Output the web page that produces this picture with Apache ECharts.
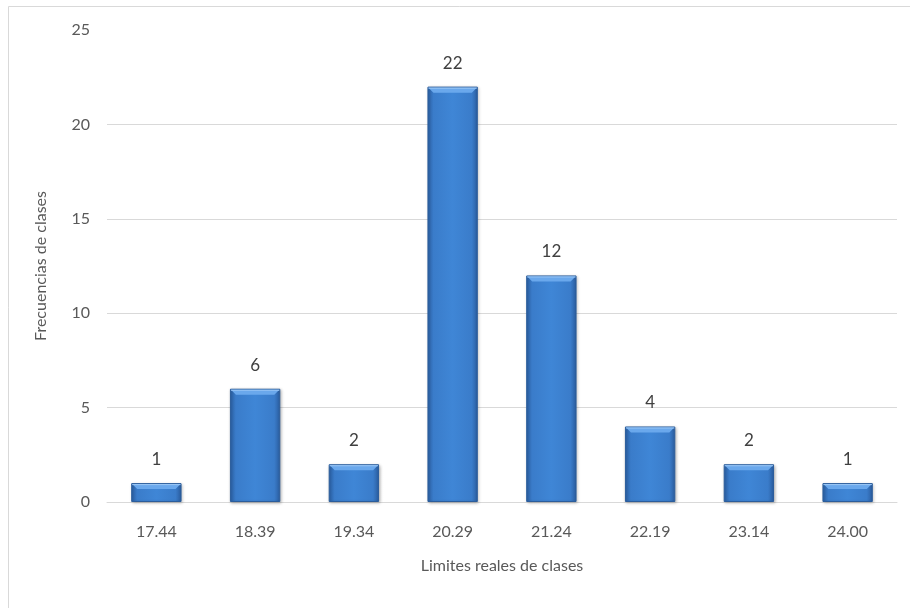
<!DOCTYPE html>
<html>
<head>
<meta charset="utf-8">
<style>
  html, body { margin: 0; padding: 0; background: #ffffff; }
  #chart { width: 910px; height: 608px; }
</style>
<script src="https://cdn.jsdelivr.net/npm/echarts@6/dist/echarts.min.js"></script>
</head>
<body>
<div id="chart"></div>
<script>
// Class boundaries and their frequencies
const categories = ['17.44', '18.39', '19.34', '20.29', '21.24', '22.19', '23.14', '24.00'];
const frequencies = [1, 6, 2, 22, 12, 4, 2, 1];
const yTicks = { min: 0, max: 25, interval: 5 };

const FONT = 'Lato, "Liberation Sans", sans-serif';

const chart = echarts.init(document.getElementById('chart'), null, { renderer: 'canvas' });

const barFill = new echarts.graphic.LinearGradient(0, 0, 1, 0, [
  { offset: 0, color: '#2c62a8' },
  { offset: 0.12, color: '#3a7cca' },
  { offset: 0.5, color: '#3f86d6' },
  { offset: 0.88, color: '#3a7cca' },
  { offset: 1, color: '#2a5c9e' }
]);

chart.setOption({
  animation: false,
  backgroundColor: '#ffffff',
  textStyle: { fontFamily: FONT },
  graphic: [{
    type: 'rect',
    shape: { x: 8.5, y: 6.5, width: 1200, height: 1200 },
    style: { fill: 'none', stroke: '#d9d9d9', lineWidth: 1 },
    silent: true
  }],
  grid: { left: 107, right: 13, top: 30, bottom: 106 },
  xAxis: {
    type: 'category',
    data: categories,
    name: 'Limites reales de clases',
    nameLocation: 'middle',
    nameGap: 56,
    nameTextStyle: { color: '#595959', fontSize: 16, fontFamily: FONT },
    axisLine: { lineStyle: { color: '#d9d9d9', width: 1 } },
    axisTick: { show: false },
    axisLabel: { color: '#595959', fontSize: 16, margin: 22, fontFamily: FONT }
  },
  yAxis: {
    type: 'value',
    min: yTicks.min,
    max: yTicks.max,
    interval: yTicks.interval,
    name: 'Frecuencias de clases',
    nameLocation: 'middle',
    nameGap: 58,
    nameTextStyle: { color: '#595959', fontSize: 16, fontFamily: FONT },
    axisLine: { show: false },
    axisTick: { show: false },
    axisLabel: { color: '#595959', fontSize: 16, margin: 17, fontFamily: FONT },
    splitLine: { show: true, showMaxLine: false, lineStyle: { color: '#d9d9d9', width: 1 } }
  },
  series: [{
    type: 'bar',
    data: frequencies,
    barWidth: '51%',
    itemStyle: {
      color: barFill,
      borderColor: '#2b5d9c',
      borderWidth: 1,
      shadowColor: 'rgba(0,0,0,0.25)',
      shadowBlur: 3,
      shadowOffsetX: 1,
      shadowOffsetY: 1
    },
    label: {
      show: true,
      position: 'top',
      distance: 15,
      color: '#404040',
      fontSize: 17,
      fontFamily: FONT
    }
  }, {
    // light bevel strip along the top of each bar
    type: 'custom',
    silent: true,
    z: 3,
    data: frequencies.map((v, i) => [i, v]),
    renderItem: function (params, api) {
      const top = api.coord([api.value(0), api.value(1)]);
      const size = api.size([1, 0]);
      const w = size[0] * 0.51;
      const x0 = top[0] - w / 2, x1 = top[0] + w / 2;
      const y = top[1];
      const d = 6;
      return {
        type: 'group',
        children: [{
          type: 'polygon',
          shape: { points: [[x0 + 1, y + 1], [x1 - 1, y + 1], [x1 - d, y + d], [x0 + d, y + d]] },
          style: { fill: '#6aa8ec' }
        }, {
          type: 'line',
          shape: { x1: x0 + 1, y1: y + 1.5, x2: x1 - 1, y2: y + 1.5 },
          style: { stroke: '#9cc7f5', lineWidth: 1 }
        }]
      };
    }
  }]
});
</script>
</body>
</html>
